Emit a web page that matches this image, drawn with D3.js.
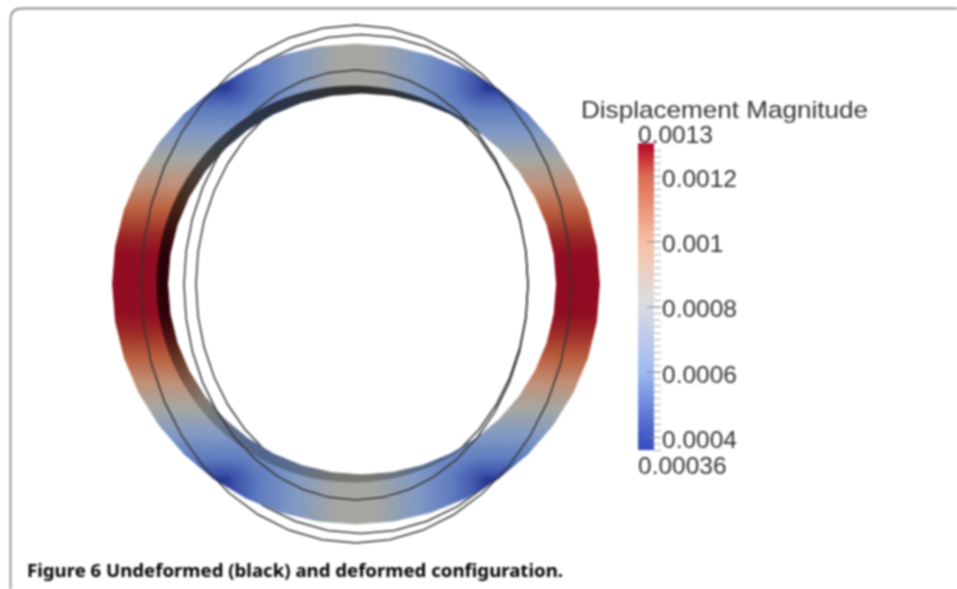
<!DOCTYPE html>
<html><head><meta charset="utf-8">
<script src="https://cdnjs.cloudflare.com/ajax/libs/d3/7.8.5/d3.min.js"></script>
<style>html,body{margin:0;padding:0;background:#fff;overflow:hidden}svg{display:block}</style>
</head><body><svg id="c" width="957" height="589"></svg>
<script>
// ---------- data ----------
const chartTitle = "Displacement Magnitude";
const caption = "Figure 6 Undeformed (black) and deformed configuration.";
const tickValues = [0.0012, 0.001, 0.0008, 0.0006, 0.0004];
const tickLabels = ["0.0012", "0.001", "0.0008", "0.0006", "0.0004"];
const rangeMax = 0.0013, rangeMin = 0.00036;
const rangeMaxLabel = "0.0013", rangeMinLabel = "0.00036";
const legendStops = [0.00036, 0.0004, 0.0006, 0.0008, 0.00083, 0.001, 0.0012, 0.0013];
const legendColors = ["#3a4cc0", "#4258c6", "#9fb9f2", "#d8dbe2", "#dedcda", "#f8bfa5", "#dd6a50", "#b40426"];
const ringStops = [0.00036, 0.0004, 0.0005, 0.00065, 0.00083, 0.00095, 0.00108, 0.0012, 0.0013];
const ringColors = ["#24358f", "#3a50aa", "#5c7abe", "#7f98c4", "#a5a6a0", "#bf9078", "#b95f3d", "#9c2a25", "#900a20"];
// ellipses: centre offset x, centre offset y, semi-axis x, semi-axis y (model units)
const ringOuter = [0, 0, 243.5, 240];
const ringInner = [6, 0, 194.5, 191];
const shadowEdge = [-2.5, 0, 196.5, 198];
const undeformedA = [0, 0, 215, 259];
const undeformedB = [5, 0, 213, 249.5];
const deformedC = [0, -1, 172, 215];
const deformedD = [6, 0, 166, 205];
// field read along the ring
const fieldY = [0, 30, 124, 196];
const fieldYValue = [0.0013, 0.0013, 0.00083, 0.00036];
const fieldX = [0, 18, 131];
const fieldXValue = [0.00083, 0.00083, 0.00036];
// darkness of the inner band by polar angle
const shadeAngle = [20, 68, 90, 124, 141, 159, 180, 190, 202, 217, 245, 270, 340];
const shadeFactor = [0.35, 0.35, 0.28, 0.38, 0.40, 0.35, 0.25, 0.35, 0.55, 0.75, 0.72, 0.72, 0.72];

// ---------- scales ----------
const svg = d3.select("#c");
const x = d3.scaleLinear().domain([-300, 300]).range([56, 656]);
const y = d3.scaleLinear().domain([-300, 300]).range([584, -16]);
const legendY = d3.scaleLinear().domain([0.0004, 0.0012]).range([437, 176]);
const ringColor = d3.scaleLinear().domain(ringStops).range(ringColors).clamp(true).interpolate(d3.interpolateRgb);
const valY = d3.scaleLinear().domain(fieldY).range(fieldYValue).clamp(true);
const valX = d3.scaleLinear().domain(fieldX).range(fieldXValue).clamp(true);
const shade = d3.scaleLinear().domain(shadeAngle).range(shadeFactor).clamp(true);

function field(px, py) {
  const p = valY(Math.abs(py)) - rangeMin, q = valX(Math.abs(px)) - rangeMin;
  return rangeMin + Math.hypot(p, q);
}
const SEG = 40;
function rawPt(e, k) {
  const a = k / SEG * 2 * Math.PI;
  return [e[0] + e[2] * Math.cos(a), e[1] + e[3] * Math.sin(a)];
}
// point on the faceted outline of an ellipse, fraction f of a full turn
function facet(e, f) {
  const s = f * SEG, k = Math.floor(s), r = s - k;
  const a = rawPt(e, k), b = rawPt(e, k + 1);
  return [a[0] + (b[0] - a[0]) * r, a[1] + (b[1] - a[1]) * r];
}
const mix = (a, b, t) => [a[0] + (b[0] - a[0]) * t, a[1] + (b[1] - a[1]) * t];
const proj = p => x(p[0]) + "," + y(p[1]);

// ---------- frame ----------
const root = svg.append("g").style("filter", "blur(0.8px)");
root.append("path").attr("d", "M10.5,589V20Q10.5,8.5 22,8.5H957")
  .attr("fill", "none").attr("stroke", "#8c8c8c").attr("stroke-width", 1.8);

// ---------- outlines ----------
const outline = d3.line().x(d => x(d[0])).y(d => y(d[1])).curve(d3.curveLinearClosed);
function drawOutline(g, e) {
  g.append("path").datum(d3.range(SEG).map(k => rawPt(e, k))).attr("d", outline)
    .attr("fill", "none").attr("stroke", "#333").attr("stroke-width", 1.5);
}
const below = root.append("g");
[undeformedB, deformedD].forEach(e => drawOutline(below, e));

// ---------- ring ----------
const N = 400, M = 12, cells = [];
d3.range(N).forEach(i => d3.range(M).forEach(j => {
  const f0 = i / N, f1 = (i + 1) / N;
  const a = mix(facet(ringInner, f0), facet(ringOuter, f0), j / M);
  const b = mix(facet(ringInner, f1), facet(ringOuter, f1), j / M);
  const c = mix(facet(ringInner, f1), facet(ringOuter, f1), (j + 1) / M);
  const d = mix(facet(ringInner, f0), facet(ringOuter, f0), (j + 1) / M);
  const m = [(a[0] + c[0]) / 2, (a[1] + c[1]) / 2];
  cells.push({pts: [a, b, c, d], v: field(m[0], m[1])});
}));
root.append("g").selectAll("path").data(cells).join("path")
  .attr("d", d => "M" + d.pts.map(proj).join("L") + "Z")
  .attr("fill", d => ringColor(d.v)).attr("stroke", d => ringColor(d.v)).attr("stroke-width", 0.7);

// ---------- dark inner band ----------
const bandCells = [];
const inside = (p, e) => ((p[0] - e[0]) / e[2]) ** 2 + ((p[1] - e[1]) / e[3]) ** 2;
d3.range(N).forEach(i => {
  const f0 = i / N, f1 = (i + 1) / N;
  const a = facet(ringInner, f0), b = facet(ringInner, f1);
  const grow = p => {              // extend from ringInner out to shadowEdge along the ray
    const dx = p[0] - ringInner[0], dy = p[1] - ringInner[1];
    let lo = 1, hi = 1.2;
    for (let n = 0; n < 18; n++) {
      const t = (lo + hi) / 2;
      if (inside([ringInner[0] + dx * t, ringInner[1] + dy * t], shadowEdge) < 1) lo = t; else hi = t;
    }
    return [ringInner[0] + dx * lo, ringInner[1] + dy * lo];
  };
  if (inside(a, shadowEdge) >= 1 || inside(b, shadowEdge) >= 1) return;
  const c = grow(b), d = grow(a);
  const m = [(a[0] + c[0]) / 2, (a[1] + c[1]) / 2];
  let ang = Math.atan2(m[1], m[0]) * 180 / Math.PI; if (ang < 0) ang += 360;
  const col = d3.rgb(ringColor(field(m[0], m[1])));
  const k = shade(ang);
  const fill = d3.rgb(col.r * k, col.g * k, col.b * k).formatHex();
  bandCells.push({pts: [a, b, c, d], fill});
});
root.append("g").selectAll("path").data(bandCells).join("path")
  .attr("d", d => "M" + d.pts.map(proj).join("L") + "Z")
  .attr("fill", d => d.fill).attr("stroke", d => d.fill).attr("stroke-width", 0.7);

const above = root.append("g");
[undeformedA, deformedC].forEach(e => drawOutline(above, e));

// ---------- legend ----------
const barX = 638, barW = 16;
const defs = svg.append("defs");
const legendColor = d3.scaleLinear().domain(legendStops).range(legendColors);
const grad = defs.append("linearGradient").attr("id", "lg")
  .attr("gradientUnits", "userSpaceOnUse").attr("x1", 0).attr("x2", 0)
  .attr("y1", legendY(rangeMax)).attr("y2", legendY(rangeMin));
[...legendStops].reverse().forEach(v => grad.append("stop")
  .attr("offset", (legendY(v) - legendY(rangeMax)) / (legendY(rangeMin) - legendY(rangeMax)))
  .attr("stop-color", legendColor(v)));
const leg = root.append("g");
leg.append("rect").attr("x", barX).attr("y", legendY(rangeMax)).attr("width", barW)
  .attr("height", legendY(rangeMin) - legendY(rangeMax)).attr("fill", "url(#lg)");

const minor = d3.range(0, 47).map(i => +(0.0004 + (i - 2) * 0.00002).toFixed(6))
  .filter(v => v >= rangeMin && v <= rangeMax);
const minorAxis = d3.axisRight(legendY).tickValues(minor).tickSize(7).tickFormat("");
const axG = leg.append("g").attr("transform", `translate(${barX + barW},0)`).call(minorAxis);
axG.select(".domain").remove();
axG.selectAll("line").attr("stroke", "#aaa").attr("stroke-width", 1);

const majorAxis = d3.axisRight(legendY).tickValues(tickValues).tickSize(14).tickPadding(1)
  .tickFormat((d, i) => tickLabels[i]);
const majG = leg.append("g").attr("transform", `translate(${barX + 9},0)`).call(majorAxis);
majG.select(".domain").remove();
majG.selectAll("line").attr("stroke", "#8a8a8a").attr("stroke-width", 1);
majG.selectAll("text").attr("fill", "#333").attr("font-family", "Liberation Sans")
  .attr("font-size", 24.5).attr("dy", "0.42em");

const tstyle = s => s.attr("fill", "#333").attr("font-family", "Liberation Sans").attr("font-size", 24.5);
leg.append("text").text(chartTitle).attr("x", 581).attr("y", 118).call(tstyle)
  .attr("textLength", 287).attr("lengthAdjust", "spacingAndGlyphs");
leg.append("text").text(rangeMaxLabel).attr("x", 638).attr("y", 143).call(tstyle);
leg.append("text").text(rangeMinLabel).attr("x", 638).attr("y", 474).call(tstyle);

// ---------- caption ----------
root.append("text").text(caption).attr("x", 27).attr("y", 577)
  .attr("font-family", "Noto Sans").attr("font-weight", 700).attr("font-size", 18.5)
  .attr("fill", "#000").attr("textLength", 536).attr("lengthAdjust", "spacingAndGlyphs");
</script></body></html>
